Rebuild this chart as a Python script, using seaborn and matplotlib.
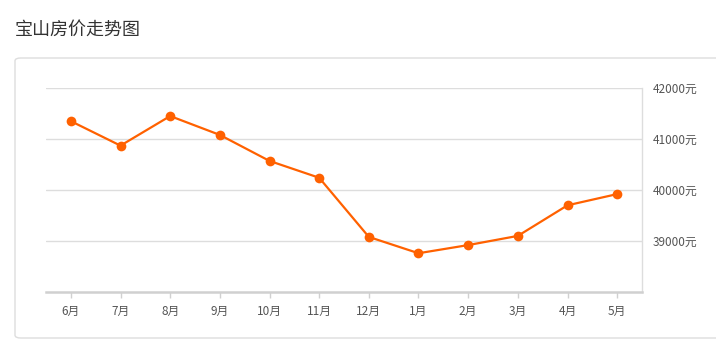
import pandas as pd
import seaborn as sns
import matplotlib.pyplot as plt
from matplotlib.patches import FancyBboxPatch

# 数据
months = ['6月', '7月', '8月', '9月', '10月', '11月', '12月', '1月', '2月', '3月', '4月', '5月']
prices = [41350, 40870, 41450, 41080, 40570, 40240, 39080, 38760, 38920, 39100, 39700, 39920]
y_ticks = [39000, 40000, 41000, 42000]
y_tick_labels = ['39000元', '40000元', '41000元', '42000元']

sns.set_theme(style='white')
plt.rcParams['font.family'] = ['Noto Sans CJK SC', 'DejaVu Sans']

df = pd.DataFrame({'month': months, 'price': prices})
df['pos'] = range(len(months))

fig = plt.figure(figsize=(7.16, 3.56), dpi=100)

# 外框 (放在最底层)
frame = FancyBboxPatch((15 / 716, 18 / 356), 710 / 716, 280 / 356,
                       boxstyle='round,pad=0,rounding_size=0.008',
                       transform=fig.transFigure, facecolor='none',
                       edgecolor='#dddddd', linewidth=1.0, zorder=-10)
fig.patches.append(frame)

fig.text(15 / 716, 1 - 30 / 356, '宝山房价走势图', fontsize=13, color='#333333',
         va='center', ha='left')

ax = fig.add_axes([46 / 716, 1 - 292 / 356, 596 / 716, 204 / 356])
ax.set_facecolor('none')
ax.set_zorder(5)

sns.lineplot(data=df, x='pos', y='price', ax=ax, color='#ff6100', linewidth=1.6,
             marker='o', markersize=7, markeredgewidth=0, sort=False)

ax.set_xlim(-0.5, len(months) - 0.5)
ax.set_ylim(38000, 42000)
ax.set_xticks(df['pos'])
ax.set_xticklabels(months)
ax.set_yticks(y_ticks)
ax.set_yticklabels(y_tick_labels)
ax.yaxis.tick_right()
ax.set_xlabel('')
ax.set_ylabel('')

ax.grid(True, axis='y', color='#dddddd', linewidth=1.0)
ax.set_axisbelow(True)

for side in ['top', 'left']:
    ax.spines[side].set_visible(False)
ax.spines['right'].set_color('#dddddd')
ax.spines['right'].set_linewidth(1.0)
ax.spines['bottom'].set_color('#d0d0d0')
ax.spines['bottom'].set_linewidth(1.8)

ax.tick_params(axis='x', bottom=True, length=4, width=1, color='#d0d0d0',
               labelsize=8.5, labelcolor='#555555', pad=5)
ax.tick_params(axis='y', right=True, length=0, labelsize=8.5, labelcolor='#555555', pad=8)

plt.savefig('out.png', dpi=100)
plt.close()
